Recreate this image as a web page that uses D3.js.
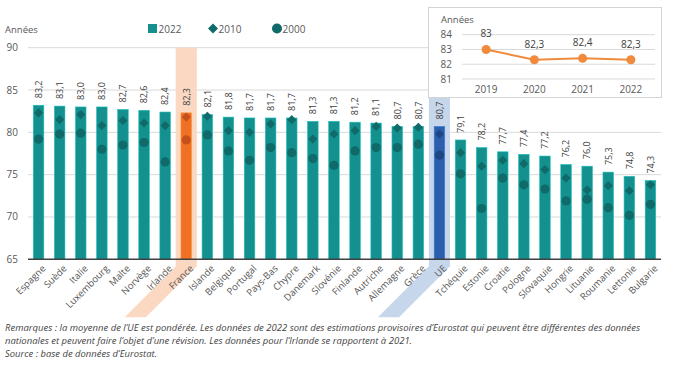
<!DOCTYPE html>
<html>
<head>
<meta charset="utf-8">
<title>Espérance de vie</title>
<script src="https://d3js.org/d3.v7.min.js"></script>
<style>
  body { margin: 0; background: #fff; }
  text { font-family: "Open Sans", sans-serif; }
</style>
</head>
<body>
<div id="chart"></div>
<script>
const countries = ["Espagne","Suède","Italie","Luxembourg","Malte","Norvège","Irlande","France","Islande","Belgique",
  "Portugal","Pays-Bas","Chypre","Danemark","Slovénie","Finlande","Autriche","Allemagne","Grèce","UE",
  "Tchéquie","Estonie","Croatie","Pologne","Slovaquie","Hongrie","Lituanie","Roumanie","Lettonie","Bulgarie"];
const val2022 = [83.2,83.1,83.0,83.0,82.7,82.6,82.4,82.3,82.1,81.8,
  81.7,81.7,81.7,81.3,81.3,81.2,81.1,80.7,80.7,80.7,
  79.1,78.2,77.7,77.4,77.2,76.2,76.0,75.3,74.8,74.3];
const val2010 = [82.3,81.5,82.1,80.8,81.4,81.1,80.8,81.8,81.9,80.2,
  80.0,81.0,81.5,79.2,79.8,80.2,80.7,80.5,80.6,79.8,
  77.6,76.0,76.7,76.3,75.6,74.6,73.2,73.7,73.1,73.8];
const val2000 = [79.2,79.8,79.9,78.0,78.5,78.8,76.5,79.1,79.7,77.8,
  76.7,78.2,77.6,76.9,76.1,77.8,78.2,78.2,78.6,77.3,
  75.1,71.0,74.6,73.8,73.3,71.9,72.1,71.1,70.2,71.5];
const yTicks = [65,70,75,80,85,90];

const insetYears = ["2019","2020","2021","2022"];
const insetVals = [83, 82.3, 82.4, 82.3];
const insetTicks = [81,82,83,84];

const legendItems = ["2022","2010","2000"];
const notes = [
  "Remarques : la moyenne de l\u2019UE est pondérée. Les données de 2022 sont des estimations provisoires d\u2019Eurostat qui peuvent être différentes des données",
  "nationales et peuvent faire l\u2019objet d\u2019une révision. Les données pour l\u2019Irlande se rapportent à 2021.",
  "Source : base de données d\u2019Eurostat."
];

const fmt = v => d3.format(".1f")(v).replace(".", ",");

const W = 682, H = 366;
const svg = d3.select("#chart").append("svg").attr("width", W).attr("height", H);

const colors = {
  base: { bar: "#14908e", mark: "#0f6a69", band: null },
  France: { bar: "#f07026", mark: "#c5501c", band: "#fad8c1" },
  UE: { bar: "#2b5fab", mark: "#1e4684", band: "#c6d6eb" }
};
const col = c => colors[c] || colors.base;

const x = d3.scaleBand().domain(countries).range([28, 661]).paddingInner(0.5).paddingOuter(0.25);
const y = d3.scaleLinear().domain([65, 90]).range([259.3, 47.7]);

// gridlines
svg.append("g").selectAll("line").data(yTicks.slice(1)).join("line")
  .attr("x1", 28).attr("x2", 661)
  .attr("y1", d => y(d)).attr("y2", d => y(d))
  .attr("stroke", "#d9d9d9").attr("stroke-width", 1);

// highlight strips (vertical band bending down-left under the labels)
const step = x.step();
["France", "UE"].forEach(c => {
  const cx = x(c) + x.bandwidth() / 2;
  const L = cx - step / 2, R = cx + step / 2;
  const yb = y(65) + 7, shift = 51, yEnd = yb + shift;
  svg.append("polygon")
    .attr("points", [[L, y(90)], [R, y(90)], [R, yb], [R - shift, yEnd], [L - shift, yEnd], [L, yb]].map(p => p.join(",")).join(" "))
    .attr("fill", col(c).band);
});

// y tick labels
svg.append("g").selectAll("text").data(yTicks).join("text")
  .attr("x", 18).attr("y", d => y(d)).attr("dy", "0.35em")
  .attr("text-anchor", "end").attr("font-size", 10).attr("fill", "#595959")
  .text(d => d);

// bars
svg.append("g").selectAll("rect").data(countries).join("rect")
  .attr("x", d => x(d)).attr("width", x.bandwidth())
  .attr("y", (d, i) => y(val2022[i])).attr("height", (d, i) => y(65) - y(val2022[i]))
  .attr("fill", d => col(d).bar)
  .attr("stroke", d => d3.color(col(d).bar).brighter(0.8)).attr("stroke-width", 0.6);

// 2000 circles
svg.append("g").selectAll("circle").data(countries).join("circle")
  .attr("cx", d => x(d) + x.bandwidth() / 2)
  .attr("cy", (d, i) => y(val2000[i])).attr("r", 4.6)
  .attr("fill", d => col(d).mark);

// 2010 diamonds
const diamond = d3.symbol().type(d3.symbolSquare).size(42)();
svg.append("g").selectAll("path").data(countries).join("path")
  .attr("d", diamond)
  .attr("transform", (d, i) => `translate(${x(d) + x.bandwidth() / 2},${y(val2010[i])}) rotate(45)`)
  .attr("fill", d => col(d).mark);

// value labels
svg.append("g").selectAll("text").data(countries).join("text")
  .attr("transform", (d, i) => `translate(${x(d) + x.bandwidth() / 2 + 3.3},${y(val2022[i]) - 7}) rotate(-90)`)
  .attr("font-size", 9).attr("fill", "#404040")
  .text((d, i) => fmt(val2022[i]));

// x axis line
svg.append("line").attr("x1", 28).attr("x2", 661).attr("y1", y(65)).attr("y2", y(65))
  .attr("stroke", "#404040").attr("stroke-width", 1.4);

// category labels
svg.append("g").selectAll("text").data(countries).join("text")
  .attr("transform", d => `translate(${x(d) + x.bandwidth() / 2 + 3},${y(65) + 5}) rotate(-45)`)
  .attr("text-anchor", "end").attr("dy", "0.7em")
  .attr("font-size", 9.5).attr("fill", "#555")
  .text(d => d);

// legend
svg.append("text").attr("x", 5).attr("y", 33).attr("font-size", 9.5).attr("fill", "#595959").text("Années");
const lg = svg.append("g");
const lx = [148, 208, 272];
lg.append("rect").attr("x", lx[0]).attr("y", 24).attr("width", 9).attr("height", 9).attr("fill", colors.base.bar);
lg.append("path").attr("d", d3.symbol().type(d3.symbolSquare).size(50)())
  .attr("transform", `translate(${lx[1] + 5},28.5) rotate(45)`).attr("fill", colors.base.mark);
lg.append("circle").attr("cx", lx[2] + 5).attr("cy", 28.5).attr("r", 5).attr("fill", colors.base.mark);
lg.selectAll("text").data(legendItems).join("text")
  .attr("x", (d, i) => lx[i] + 10.5).attr("y", 32.5)
  .attr("font-size", 10).attr("fill", "#595959").text(d => d);

// inset
const ig = svg.append("g");
ig.append("rect").attr("x", 428.5).attr("y", 7.5).attr("width", 233).attr("height", 90)
  .attr("fill", "#fff").attr("stroke", "#d4d4d4");
const xi = d3.scaleBand().domain(insetYears).range([462, 655]);
const yi = d3.scaleLinear().domain([81, 84]).range([79, 34.7]);
ig.append("text").attr("x", 441).attr("y", 23).attr("font-size", 9.5).attr("fill", "#595959").text("Années");
ig.selectAll("line.g").data(insetTicks).join("line").attr("class", "g")
  .attr("x1", 462).attr("x2", 655).attr("y1", d => yi(d)).attr("y2", d => yi(d))
  .attr("stroke", "#d9d9d9");
ig.selectAll("text.yt").data(insetTicks).join("text").attr("class", "yt")
  .attr("x", 452).attr("y", d => yi(d)).attr("dy", "0.35em").attr("text-anchor", "end")
  .attr("font-size", 10).attr("fill", "#595959").text(d => d);
ig.selectAll("text.xt").data(insetYears).join("text").attr("class", "xt")
  .attr("x", d => xi(d) + xi.bandwidth() / 2).attr("y", 93).attr("text-anchor", "middle")
  .attr("font-size", 10).attr("fill", "#595959").text(d => d);
const line = d3.line().x((d, i) => xi(insetYears[i]) + xi.bandwidth() / 2).y(d => yi(d));
ig.append("path").datum(insetVals).attr("d", line)
  .attr("fill", "none").attr("stroke", "#f08a3c").attr("stroke-width", 2);
ig.selectAll("circle").data(insetVals).join("circle")
  .attr("cx", (d, i) => xi(insetYears[i]) + xi.bandwidth() / 2).attr("cy", d => yi(d)).attr("r", 4.5)
  .attr("fill", "#f08a3c");
ig.selectAll("text.vl").data(insetVals).join("text").attr("class", "vl")
  .attr("x", (d, i) => xi(insetYears[i]) + xi.bandwidth() / 2).attr("y", d => yi(d) - 12)
  .attr("text-anchor", "middle").attr("font-size", 10).attr("fill", "#404040")
  .text(d => Number.isInteger(d) ? d : fmt(d));

// notes
const noteLen = [635, 407, 152];
svg.append("g").selectAll("text").data(notes).join("text")
  .attr("x", 5).attr("y", (d, i) => 330.5 + i * 13)
  .attr("font-size", 9).attr("font-style", "italic").attr("fill", "#444")
  .attr("textLength", (d, i) => noteLen[i]).attr("lengthAdjust", "spacingAndGlyphs")
  .text(d => d);
</script>
</body>
</html>
